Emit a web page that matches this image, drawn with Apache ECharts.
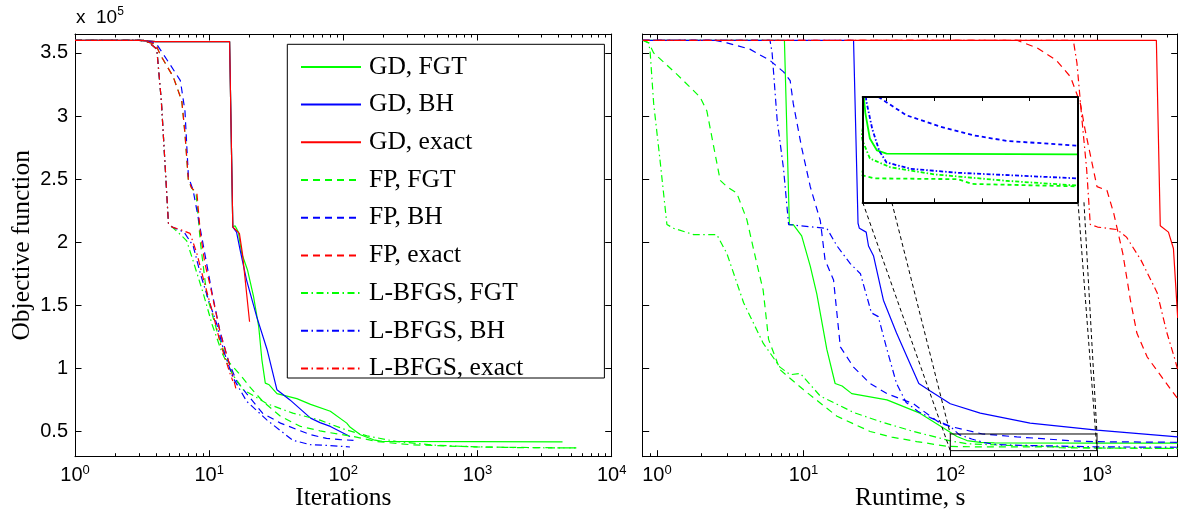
<!DOCTYPE html>
<html><head><meta charset="utf-8">
<script src="https://cdn.jsdelivr.net/npm/echarts@6/dist/echarts.min.js"></script>
<style>html,body{margin:0;padding:0;background:#fff}#c{width:1178px;height:514px}</style>
</head><body><div id="c"></div>
<script>
// ---------------- DATA ----------------
const SERIES_NAMES = ['GD, FGT','GD, BH','GD, exact','FP, FGT','FP, BH','FP, exact','L-BFGS, FGT','L-BFGS, BH','L-BFGS, exact'];

// Left panel: objective vs iterations
const iterGdFgt = [[1,360000],[3,360000],[4,359000],[14.2,359000],[15,212000],[15.6,213000],[16.5,208000],[17.5,191000],[19.3,178000],[21.4,157000],[23.4,133000],[24.7,107000],[26.2,88300],[28,87000],[32,80000],[45,76000],[57,71500],[80,66000],[106,56600],[112,53500],[134,47400],[168,43400],[194,42100],[4300,41800]];
const iterGdBh = [[1,360000],[3,360000],[4,359000],[14.2,359000],[15,212000],[16,208000],[17,194000],[19,170000],[22.6,141000],[27,115000],[32,83000],[40,75000],[57,60600],[67,57000],[80,54000],[112,46000]];
const iterGdExact = [[1,360000],[3,360000],[4,359000],[14.2,359000],[15,212000],[16.8,207000],[17.7,191000],[18,190000],[20,137000]];
const iterFpFgt = [[1,360000],[3.06,360000],[4,357000],[4.3,349000],[5.4,331000],[6.25,312000],[6.6,286000],[7.0,249000],[7.4,243000],[8.0,238000],[8.6,200000],[9.6,158000],[11.4,130000],[13.5,107000],[17,95000],[20,85600],[25,74000],[34,62000],[48,54000],[67,50500],[80,49000],[119,46000],[178,42000],[316,39500],[990,37700],[5700,36900]];
const iterFpBh = [[1,360000],[3.06,360000],[4,358000],[5.1,341000],[6.1,328000],[6.6,304000],[7.0,252000],[7.6,241000],[8.6,210000],[9.5,185000],[10.5,160000],[12,130000],[14,105000],[16,90000],[19,80000],[25,64500],[34,56600],[57,47400],[75,44500],[95,43500],[119,43000]];
const iterFpExact = [[1,360000],[3.06,360000],[4,357000],[4.3,349000],[5.4,331000],[6.25,312000],[6.6,286000],[7.0,249000],[7.4,243000],[8.1,239000],[8.6,207000],[9.3,183000],[10.1,167000],[12.1,128000],[15.1,93000],[15.8,84000]];
const iterLbFgt = [[1,360000],[3.4,360000],[4.07,353000],[4.4,312000],[4.7,260000],[4.97,215000],[5.3,212000],[6.25,205000],[6.8,201000],[7.6,185000],[9,160000],[10.5,135000],[12.5,112000],[15,95000],[18,83000],[27,72000],[42,64500],[67,59000],[100,52000],[150,46500],[250,42000],[500,39000],[1000,37800],[2000,37200],[5700,36900]];
const iterLbBh = [[1,360000],[3.4,360000],[4.07,353000],[4.4,312000],[4.7,260000],[4.97,215000],[5.3,212000],[6.5,208000],[7.6,197000],[8.6,175000],[9.9,154000],[11.4,135000],[13,112000],[15,93000],[19,74000],[27,59000],[42,43000],[57,39500],[80,38800],[112,37700]];
const iterLbExact = [[1,360000],[3.4,360000],[4.07,353000],[4.4,312000],[4.7,260000],[4.97,215000],[5.3,212000],[6.1,210000],[7.2,207000],[8.1,191000],[9.1,170000],[10.8,141000],[12.1,120000],[14.3,96000],[15,90000]];

// Right panel: objective vs runtime (s)
const timeGdFgt = [[0.8,360000],[7.4,360000],[8.0,214000],[8.5,214000],[9.7,205000],[11.1,181000],[12.3,159000],[14.4,115000],[16.4,88000],[18.3,86000],[21.3,80000],[37,75000],[62,64500],[95,51000],[111,46000],[130,42800],[160,41300],[200,40900],[1000,40800],[3550,40800]];
const timeGdBh = [[0.8,360000],[21.9,360000],[23.5,215000],[24,211000],[26.7,208000],[27.7,197000],[30,189000],[35,154000],[43,128000],[53,104000],[61,88000],[73,82000],[100,72000],[160,64500],[350,56600],[1000,51000],[3550,45700]];
const timeGdExact = [[20,360000],[2540,360000],[2700,213000],[3070,208000],[3320,195000],[3550,140000]];
const timeFpFgt = [[0.8,360000],[0.88,358000],[0.95,350000],[1.37,333000],[1.97,315000],[2.19,304000],[2.7,249000],[3.0,244000],[3.5,239000],[4.1,218000],[4.8,183000],[5.3,162000],[5.77,123000],[6.9,99000],[10,83000],[16.9,62000],[28.4,50000],[40,45500],[59,42000],[95,38200],[150,37800],[500,37700],[560,37100],[1000,36800],[3550,36600]];
const timeFpBh = [[0.8,360000],[2.5,360000],[3.0,358000],[4.3,353000],[5.9,344000],[7.3,335000],[8.1,328000],[8.5,310000],[9.7,275000],[11.1,244000],[13,217000],[14,186000],[16,170000],[17.8,117000],[21.9,101000],[28.4,88000],[37,80000],[56,72000],[85,56600],[100,54000],[166,48000],[284,45700],[424,44300],[564,43200],[704,42500],[1000,41900],[3550,41400]];
const timeFpExact = [[0.8,360000],[285,360000],[390,354000],[530,344000],[660,331000],[770,310000],[830,289000],[1000,244000],[1170,241000],[1300,223000],[1500,191000],[1690,154000],[1870,128000],[2200,109000],[2850,91000],[3550,76000]];
const timeLbFgt = [[0.8,360000],[0.88,358000],[0.9,350000],[0.95,310000],[1.05,265000],[1.17,214000],[1.3,211000],[1.78,206000],[2.56,206000],[3.0,191000],[3.9,152000],[5.3,120000],[6.9,101000],[8.1,95000],[9.5,96000],[13,78000],[22,65000],[33,58000],[56,50000],[80,45500],[100,42500],[130,40300],[215,39200],[400,38300],[700,37500],[1000,36900],[3550,36600]];
const timeLbBh = [[0.8,360000],[5.9,360000],[6.1,350000],[6.6,297000],[7.3,258000],[7.9,214000],[9.5,213000],[14.4,211000],[16.9,197000],[20.8,183000],[24.4,175000],[29,144000],[32.3,141000],[37,115000],[43,88000],[50,73000],[60,66000],[73,61000],[100,54000],[115,47500],[140,44000],[170,41200],[200,39800],[300,39000],[500,38500],[1000,37800],[3550,37500]];
const timeLbExact = [[0.8,360000],[690,360000],[730,342000],[790,297000],[850,258000],[900,214000],[1010,212000],[1370,210000],[1590,204000],[1990,186000],[2570,160000],[3000,128000],[3400,107000],[3550,99000]];

// Axes
const ITER_RANGE = [1, 10000];
const TIME_RANGE = [0.8, 3550];
const Y_RANGE = [30000, 365000];
const Y_TICKS = [50000, 100000, 150000, 200000, 250000, 300000, 350000];
// Zoomed region (shown in the inset)
const ZOOM_X = [100, 1000];
const ZOOM_Y = [34800, 48000];
const INSET_X_TICKS = [200, 400, 600, 800];
const CONNECTOR_START_X = [100, 222, 1003, 1028]; // inset x where connector lines leave the inset bottom
// ---------------------------------------

const GREEN = '#00ff00', BLUE = '#0000ff', RED = '#ff0000';
const SANS = 'Liberation Sans', SERIF = 'Liberation Serif';
const DASH = [7, 5], DASHDOT = [7, 3.5, 1.5, 3.5];
const DASH_IN = [4, 3], DASHDOT_IN = [4, 2, 1.5, 2];
const COLORS = [GREEN, BLUE, RED, GREEN, BLUE, RED, GREEN, BLUE, RED];
const KINDS = ['solid','solid','solid','dash','dash','dash','dashdot','dashdot','dashdot'];
const LEFT_DATA = [iterGdFgt, iterGdBh, iterGdExact, iterFpFgt, iterFpBh, iterFpExact, iterLbFgt, iterLbBh, iterLbExact];
const RIGHT_DATA = [timeGdFgt, timeGdBh, timeGdExact, timeFpFgt, timeFpBh, timeFpExact, timeLbFgt, timeLbBh, timeLbExact];

function lineType(kind, inset) {
  if (kind === 'solid') return 'solid';
  if (kind === 'dash') return inset ? DASH_IN : DASH;
  return inset ? DASHDOT_IN : DASHDOT;
}
function mkSeries(i, data, axisIdx, width, inset, z) {
  return {
    type: 'line', name: SERIES_NAMES[i], data: data,
    xAxisIndex: axisIdx, yAxisIndex: axisIdx,
    symbol: 'none', showSymbol: false, clip: true, silent: true,
    emphasis: {disabled: true}, z: z,
    itemStyle: {color: COLORS[i]},
    lineStyle: {color: COLORS[i], width: width, type: lineType(KINDS[i], inset)}
  };
}

const supLabel = {
  fontFamily: SANS, color: '#000',
  formatter: v => '{b|10}{s|' + Math.round(Math.log10(v)) + '}',
  rich: {
    b: {fontFamily: SANS, fontSize: 20, lineHeight: 21, verticalAlign: 'bottom', color: '#000'},
    s: {fontFamily: SANS, fontSize: 13, lineHeight: 13, verticalAlign: 'top', color: '#000'}
  }
};
const axisLineBlack = {show: true, onZero: false, lineStyle: {color: '#000', width: 1}};

function logX(grid, range, pos, labels, name, hideEnds) {
  return {
    type: 'log', logBase: 10, gridIndex: grid, position: pos, min: range[0], max: range[1],
    axisLine: axisLineBlack,
    axisTick: {show: true, inside: true, length: 6.5, lineStyle: {color: '#000', width: 1}},
    minorTick: {show: true, splitNumber: 9, length: 3.5, lineStyle: {color: '#000', width: 1}},
    splitLine: {show: false}, minorSplitLine: {show: false},
    axisLabel: labels ? Object.assign({show: true, margin: 7.5, showMinLabel: !hideEnds, showMaxLabel: !hideEnds}, supLabel) : {show: false},
    name: name || '', nameLocation: 'middle', nameGap: 29, nameMoveOverlap: false,
    nameTextStyle: {fontFamily: SERIF, fontSize: 25.5, color: '#000'}
  };
}
function valY(grid, pos, labels, name) {
  return {
    type: 'value', gridIndex: grid, position: pos, min: Y_RANGE[0], max: Y_RANGE[1],
    axisLine: axisLineBlack,
    axisTick: {show: true, inside: true, length: 6.5, customValues: Y_TICKS, lineStyle: {color: '#000', width: 1}},
    splitLine: {show: false},
    axisLabel: labels ? {show: true, margin: 7, customValues: Y_TICKS, fontFamily: SANS, fontSize: 20, color: '#000',
      formatter: v => String(v / 100000)} : {show: false},
    name: name || '', nameLocation: 'middle', nameGap: 40, nameRotate: 90, nameMoveOverlap: false,
    nameTextStyle: {fontFamily: SERIF, fontSize: 25.5, color: '#000'}
  };
}
function insetX(pos) {
  return {
    type: 'value', gridIndex: 2, position: pos, min: ZOOM_X[0], max: ZOOM_X[1],
    axisLine: {show: true, onZero: false, lineStyle: {color: '#000', width: 2}},
    axisTick: {show: true, inside: true, length: 4, customValues: INSET_X_TICKS, lineStyle: {color: '#000', width: 1}},
    axisLabel: {show: false}, splitLine: {show: false}, z: 6
  };
}
function insetY(pos) {
  return {
    type: 'value', gridIndex: 2, position: pos, min: ZOOM_Y[0], max: ZOOM_Y[1],
    axisLine: {show: true, onZero: false, lineStyle: {color: '#000', width: 2}},
    axisTick: {show: false}, axisLabel: {show: false}, splitLine: {show: false}, z: 6
  };
}

const series = [];
LEFT_DATA.forEach((d, i) => series.push(mkSeries(i, d, 0, 1.2, false, 2)));
RIGHT_DATA.forEach((d, i) => series.push(mkSeries(i, d, 2, 1.2, false, 2)));
RIGHT_DATA.forEach((d, i) => series.push(mkSeries(i, d, 4, 1.8, true, 3)));
series.push({
  type: 'line', name: 'zoom-box', xAxisIndex: 2, yAxisIndex: 2, symbol: 'none', silent: true, z: 4,
  data: [[ZOOM_X[0], ZOOM_Y[0]], [ZOOM_X[1], ZOOM_Y[0]], [ZOOM_X[1], ZOOM_Y[1]], [ZOOM_X[0], ZOOM_Y[1]], [ZOOM_X[0], ZOOM_Y[0]]],
  lineStyle: {color: '#000', width: 1}, emphasis: {disabled: true}
});

const option = {
  animation: false,
  backgroundColor: '#fff',
  grid: [
    {left: 75, top: 34, width: 536.7, height: 422.7, outerBoundsMode: 'none', containLabel: false},
    {left: 642.7, top: 34, width: 535, height: 422.7, outerBoundsMode: 'none', containLabel: false},
    {left: 862.7, top: 97, width: 214.6, height: 105.3, outerBoundsMode: 'none', containLabel: false, z: 3}
  ],
  xAxis: [
    logX(0, ITER_RANGE, 'bottom', true, 'Iterations', false),
    logX(0, ITER_RANGE, 'top', false),
    logX(1, TIME_RANGE, 'bottom', true, 'Runtime, s', true),
    logX(1, TIME_RANGE, 'top', false),
    insetX('bottom'), insetX('top')
  ],
  yAxis: [
    valY(0, 'left', true, 'Objective function'),
    valY(0, 'right', false),
    valY(1, 'left', false),
    valY(1, 'right', false),
    insetY('left'), insetY('right')
  ],
  legend: {
    data: SERIES_NAMES, orient: 'vertical', left: 287.3, top: 44.3,
    padding: [9.6, 81, -3.5, 12.7], itemWidth: 60, itemHeight: 14, itemGap: 11.7,
    borderColor: '#000', borderWidth: 1, backgroundColor: '#fff',
    itemStyle: {opacity: 0}, selectedMode: false, z: 10,
    textStyle: {fontFamily: SERIF, fontSize: 25.5, color: '#000', padding: [0, 0, 0, 3]}
  },
  series: series
};

const chart = echarts.init(document.getElementById('c'), null, {renderer: 'canvas'});
chart.setOption(option);

const ends = [[ZOOM_X[0], ZOOM_Y[0]], [ZOOM_X[0], ZOOM_Y[1]], [ZOOM_X[1], ZOOM_Y[0]], [ZOOM_X[1], ZOOM_Y[1]]];
const graphics = [{
  type: 'text', left: 76, top: 6, z: 10,
  style: {
    text: '{a|x  10}{s|5}',
    rich: {
      a: {fontFamily: SANS, fontSize: 19, lineHeight: 21, verticalAlign: 'bottom', fill: '#000'},
      s: {fontFamily: SANS, fontSize: 12, lineHeight: 12, verticalAlign: 'top', fill: '#000'}
    }
  }
}];
CONNECTOR_START_X.forEach((sx, i) => {
  const p0 = chart.convertToPixel({xAxisIndex: 4, yAxisIndex: 4}, [sx, ZOOM_Y[0]]);
  const p1 = chart.convertToPixel({xAxisIndex: 2, yAxisIndex: 2}, ends[i]);
  graphics.push({type: 'line', z: 9, silent: true,
    shape: {x1: p0[0], y1: p0[1], x2: p1[0], y2: p1[1]},
    style: {stroke: '#000', lineWidth: 1, lineDash: [4, 3]}});
});
chart.setOption({graphic: graphics});
</script></body></html>
